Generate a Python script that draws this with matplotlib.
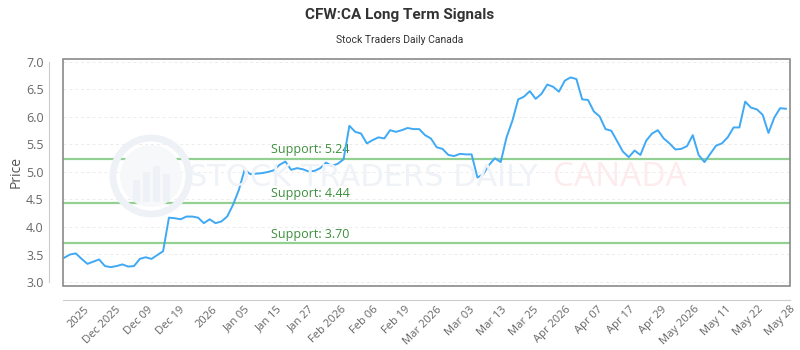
import matplotlib
matplotlib.use("Agg")
import matplotlib.pyplot as plt
import numpy as np
from matplotlib.patches import Rectangle, Circle

# price series
prices = [
    3.44, 3.50, 3.52, 3.42, 3.33, 3.37, 3.41, 3.29, 3.27, 3.29,
    3.32, 3.28, 3.29, 3.42, 3.45, 3.42, 3.49, 3.56, 4.17, 4.16,
    4.14, 4.19, 4.19, 4.17, 4.07, 4.14, 4.07, 4.10, 4.19, 4.40,
    4.67, 5.04, 4.96, 4.97, 4.98, 5.00, 5.03, 5.13, 5.19, 5.04,
    5.07, 5.05, 5.01, 5.02, 5.07, 5.17, 5.11, 5.15, 5.23, 5.84,
    5.73, 5.70, 5.52, 5.58, 5.63, 5.61, 5.76, 5.73, 5.76, 5.80,
    5.78, 5.78, 5.67, 5.61, 5.45, 5.42, 5.31, 5.29, 5.33, 5.32,
    5.32, 4.90, 4.96, 5.13, 5.25, 5.18, 5.63, 5.93, 6.32, 6.37,
    6.47, 6.33, 6.42, 6.59, 6.55, 6.46, 6.66, 6.72, 6.69, 6.32,
    6.31, 6.10, 6.01, 5.78, 5.75, 5.56, 5.37, 5.27, 5.39, 5.31,
    5.57, 5.70, 5.76, 5.61, 5.52, 5.41, 5.42, 5.47, 5.67, 5.31,
    5.18, 5.33, 5.48, 5.52, 5.63, 5.81, 5.81, 6.28, 6.17, 6.14,
    6.04, 5.71, 5.99, 6.16, 6.15,
]

tick_labels = [
    "2025", "Dec 2025", "Dec 09", "Dec 19", "2026", "Jan 05", "Jan 15",
    "Jan 27", "Feb 2026", "Feb 06", "Feb 19", "Mar 2026", "Mar 03",
    "Mar 13", "Mar 25", "Apr 2026", "Apr 07", "Apr 17", "Apr 29",
    "May 2026", "May 11", "May 22", "May 28",
]

supports = [5.24, 4.44, 3.70]
support_labels = ["Support: 5.24", "Support: 4.44", "Support: 3.70"]

fig = plt.figure(figsize=(8, 3.5), dpi=100)
ax = fig.add_axes([63 / 800, 1 - 286 / 350, 727 / 800, 227 / 350])

x = np.arange(len(prices))
n = len(prices)

# faint watermark: ring logo + brand text
fig.patches.append(Circle((1.51, 1.74), 0.38, transform=fig.dpi_scale_trans,
                          fill=False, ec="#eef1f5", lw=5, zorder=0))
fig.patches.append(Circle((1.51, 1.74), 0.31, transform=fig.dpi_scale_trans,
                          fill=True, fc="#f7f8fa", ec="none", zorder=0))
for bx, bh in [(1.33, 0.22), (1.43, 0.30), (1.53, 0.36), (1.63, 0.28)]:
    fig.patches.append(Rectangle((bx, 1.48), 0.07, bh, transform=fig.dpi_scale_trans,
                                 fc="#eef1f5", ec="none", zorder=0))
fig.text(363 / 800, 1 - 178 / 350, "STOCK TRADERS DAILY", fontsize=22,
         family="DejaVu Sans", color="#eff2f6", ha="center", va="center", zorder=0)
fig.text(620 / 800, 1 - 178 / 350, "CANADA", fontsize=24,
         family="Open Sans", color="#fdebed", ha="center", va="center", zorder=0)
ax.patch.set_alpha(0)

for y in np.arange(3.0, 7.01, 0.5):
    ax.axhline(y, color="#ececec", lw=0.7, ls=(0, (3, 3)), zorder=1)

for val, lab in zip(supports, support_labels):
    ax.axhline(val, color="#92d192", lw=1.6, zorder=2)
    ax.text(35.6, val + 0.05, lab, color="#3c8f3c", fontsize=9,
            family="Open Sans", ha="left", va="bottom", zorder=3)

ax.plot(x, prices, color="#3fa9f5", lw=1.4, zorder=4)

ax.set_xlim(-0.2, n - 1 + 0.5)
ax.set_ylim(3.0 - 4 / 55, 7.0 + 3 / 55)
ax.set_yticks(np.arange(3.0, 7.01, 0.5))
ax.set_yticklabels([f"{v:.1f}" for v in np.arange(3.0, 7.01, 0.5)])
ax.set_xticks(np.linspace(3.3, n - 0.3, len(tick_labels)))
ax.set_xticklabels(tick_labels)

for s in ["top", "right"]:
    ax.spines[s].set_visible(False)
ax.spines["left"].set_position(("outward", 10))
ax.spines["left"].set_bounds(3.0, 7.0)
ax.spines["left"].set_color("#cccccc")
ax.spines["bottom"].set_position(("outward", 10))
ax.spines["bottom"].set_color("#cccccc")
ax.add_patch(Rectangle((0, 0), 1, 1, transform=ax.transAxes, fill=False,
                       ec="#8a8a8a", lw=1.2, clip_on=False, zorder=5))

ax.tick_params(axis="both", length=0, colors="#666666")
ax.tick_params(axis="y", labelsize=9, pad=4)
ax.tick_params(axis="x", labelsize=8, pad=3)
plt.setp(ax.get_xticklabels(), rotation=45, ha="right", rotation_mode="anchor",
         family="Open Sans")
plt.setp(ax.get_yticklabels(), family="Open Sans")

ax.set_ylabel("Price", fontsize=10, color="#555555", family="Open Sans", labelpad=2)

fig.text(0.5, 1 - 15 / 350, "CFW:CA Long Term Signals", ha="center", va="center",
         fontsize=11, fontweight="bold", color="#333333", family="Roboto")
fig.text(0.5, 1 - 40 / 350, "Stock Traders Daily Canada", ha="center", va="center",
         fontsize=7.5, color="#333333", family="Roboto")

fig.savefig("out.png", dpi=100)
